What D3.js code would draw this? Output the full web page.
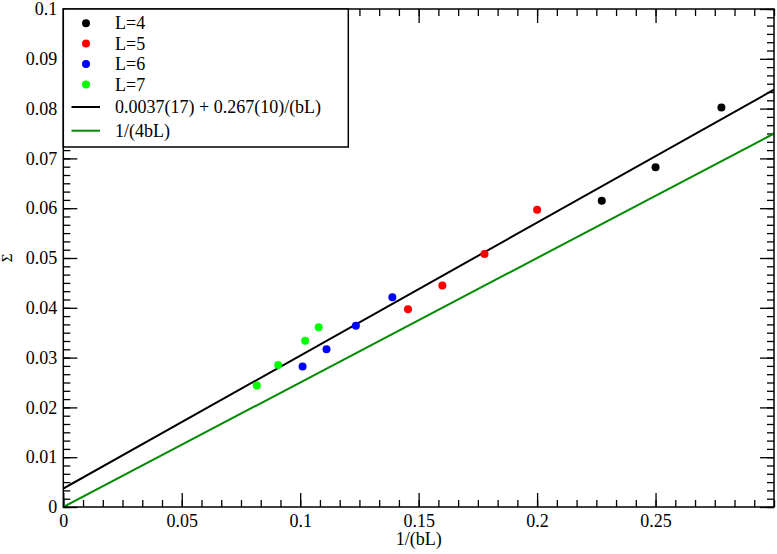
<!DOCTYPE html>
<html>
<head>
<meta charset="utf-8">
<script src="https://cdn.jsdelivr.net/npm/d3@7"></script>
<style>
  body { margin: 0; background: #fff; }
  svg text { font-family: "Liberation Serif", "DejaVu Serif", serif; fill: #000; }
</style>
</head>
<body>
<svg id="chart" width="777" height="554"></svg>
<script>
// data
var xL4 = [0.2273, 0.25, 0.2778];
var yL4 = [0.0615, 0.0682, 0.0802];
var xL5 = [0.1455, 0.16, 0.1778, 0.2];
var yL5 = [0.0397, 0.0445, 0.0508, 0.0597];
var xL6 = [0.1010, 0.1111, 0.1235, 0.1389];
var yL6 = [0.0282, 0.0317, 0.0364, 0.0421];
var xL7 = [0.0817, 0.0907, 0.1021, 0.1078];
var yL7 = [0.0244, 0.0285, 0.0334, 0.0361];

var fitA = 0.0037, fitB = 0.267;   // black fit line
var refB = 0.25;                   // 1/(4bL)

var xTicks = [0, 0.05, 0.1, 0.15, 0.2, 0.25];
var yTicks = [0, 0.01, 0.02, 0.03, 0.04, 0.05, 0.06, 0.07, 0.08, 0.09, 0.1];

var series = [
  { name: "L=4", xs: xL4, ys: yL4, color: "#000000" },
  { name: "L=5", xs: xL5, ys: yL5, color: "#ff0000" },
  { name: "L=6", xs: xL6, ys: yL6, color: "#0000ff" },
  { name: "L=7", xs: xL7, ys: yL7, color: "#00ff00" }
];
var lines = [
  { name: "0.0037(17) + 0.267(10)/(bL)", f: function (x) { return fitA + fitB * x; }, color: "#000000" },
  { name: "1/(4bL)", f: function (x) { return refB * x; }, color: "#008b00" }
];

var pLeft = 63.3, pRight = 774, pTop = 9, pBottom = 507;
var serif = "Liberation Serif, DejaVu Serif, serif";
var svg = d3.select("#chart");

var x = d3.scaleLinear().domain([0, 0.3]).range([pLeft, pRight]);
var y = d3.scaleLinear().domain([0, 0.1]).range([pBottom, pTop]);

// minor ticks: 6 subdivisions per major step
function minors(step, max) {
  var out = [];
  for (var i = 0; i * step / 6 <= max + 1e-9; i++) out.push(i * step / 6);
  return out;
}
var xMinor = minors(0.05, 0.3), yMinor = minors(0.01, 0.1);

function drawAxis(axis, pos, labels) {
  var g = svg.append("g").attr("transform", pos).call(axis)
    .attr("font-family", serif).attr("font-size", 18);
  g.select(".domain").remove();
  g.selectAll("line").attr("stroke", "#000").attr("stroke-width", 1.3);
  if (!labels) g.selectAll("text").remove();
  return g;
}

var fmt = function (d) { return d === 0 ? "0" : String(+d.toFixed(2)); };

// major & minor ticks on all four sides, pointing inwards
drawAxis(d3.axisTop(x).tickValues(xMinor).tickSize(7).tickFormat(""), "translate(0," + pBottom + ")");
drawAxis(d3.axisTop(x).tickValues(xTicks).tickSize(14).tickFormat(""), "translate(0," + pBottom + ")");
drawAxis(d3.axisBottom(x).tickValues(xMinor).tickSize(7).tickFormat(""), "translate(0," + pTop + ")");
drawAxis(d3.axisBottom(x).tickValues(xTicks).tickSize(14).tickFormat(""), "translate(0," + pTop + ")");
drawAxis(d3.axisRight(y).tickValues(yMinor).tickSize(7).tickFormat(""), "translate(" + pLeft + ",0)");
drawAxis(d3.axisRight(y).tickValues(yTicks).tickSize(14).tickFormat(""), "translate(" + pLeft + ",0)");
drawAxis(d3.axisLeft(y).tickValues(yMinor).tickSize(7).tickFormat(""), "translate(" + pRight + ",0)");
drawAxis(d3.axisLeft(y).tickValues(yTicks).tickSize(14).tickFormat(""), "translate(" + pRight + ",0)");

// tick labels
drawAxis(d3.axisBottom(x).tickValues(xTicks).tickSize(0).tickPadding(7).tickFormat(fmt),
  "translate(0," + pBottom + ")", true);
drawAxis(d3.axisLeft(y).tickValues(yTicks).tickSize(0).tickPadding(6).tickFormat(fmt),
  "translate(" + pLeft + ",0)", true);

// clip
svg.append("clipPath").attr("id", "clip").append("rect")
  .attr("x", pLeft).attr("y", pTop).attr("width", pRight - pLeft).attr("height", pBottom - pTop);

var plot = svg.append("g").attr("clip-path", "url(#clip)");
var line = d3.line().x(function (d) { return x(d[0]); }).y(function (d) { return y(d[1]); });
lines.forEach(function (l) {
  plot.append("path")
    .attr("d", line([[0, l.f(0)], [0.3, l.f(0.3)]]))
    .attr("fill", "none").attr("stroke", l.color).attr("stroke-width", 2);
});

series.forEach(function (s) {
  plot.selectAll(null).data(d3.range(s.xs.length)).enter().append("circle")
    .attr("cx", function (i) { return x(s.xs[i]); })
    .attr("cy", function (i) { return y(s.ys[i]); })
    .attr("r", 4).attr("fill", s.color);
});

// frame
svg.append("rect").attr("x", pLeft).attr("y", pTop).attr("width", pRight - pLeft).attr("height", pBottom - pTop)
  .attr("fill", "none").attr("stroke", "#000").attr("stroke-width", 1.5);

// axis titles
svg.append("text").attr("x", (pLeft + pRight) / 2).attr("y", 545).attr("text-anchor", "middle")
  .attr("font-size", 18).text("1/(bL)");
svg.append("text").attr("transform", "translate(12," + ((pTop + pBottom) / 2) + ") rotate(-90)")
  .attr("text-anchor", "middle").attr("font-size", 15).text("Σ");

// legend
var lg = svg.append("g");
lg.append("rect").attr("x", pLeft).attr("y", pTop).attr("width", 285).attr("height", 138)
  .attr("fill", "#fff").attr("stroke", "#000").attr("stroke-width", 1.5);
var rowY = [23.3, 43.6, 64, 84.6, 107, 130.7];
series.forEach(function (s, i) {
  lg.append("circle").attr("cx", 86).attr("cy", rowY[i]).attr("r", 4).attr("fill", s.color);
  lg.append("text").attr("x", 115).attr("y", rowY[i] + 6).attr("font-size", 18).text(s.name);
});
lines.forEach(function (l, j) {
  var yy = rowY[4 + j];
  lg.append("line").attr("x1", 71.5).attr("x2", 100).attr("y1", yy).attr("y2", yy)
    .attr("stroke", l.color).attr("stroke-width", 2);
  lg.append("text").attr("x", 115).attr("y", yy + 6).attr("font-size", 18).text(l.name);
});
</script>
</body>
</html>
